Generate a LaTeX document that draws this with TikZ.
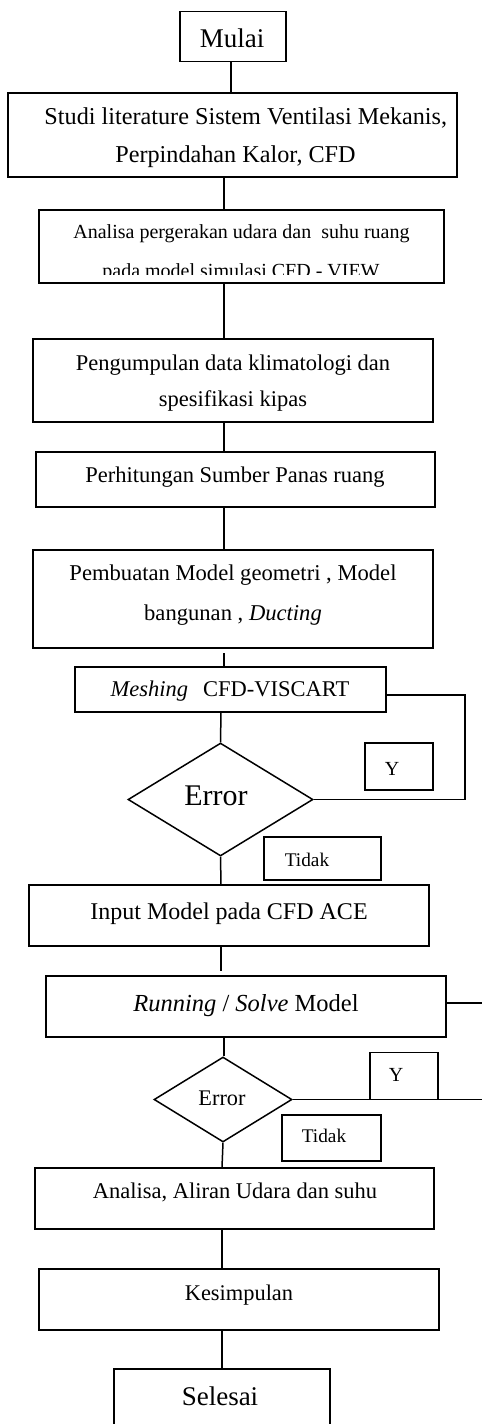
\documentclass[tikz,border=0pt]{standalone}
\usepackage{fontspec}
\setmainfont{Liberation Serif}
\usetikzlibrary{shapes.geometric}
\tikzset{
 box/.style={draw, line width=1.5pt, rectangle, inner sep=0pt, fill=white},
 dia/.style={draw, line width=1.5pt, diamond, inner sep=0pt, fill=white},
 conn/.style={line width=1.5pt},
 txt/.style={anchor=base, inner sep=0pt},
}
\newcommand{\fs}[1]{\fontsize{#1}{#1}\selectfont}
\begin{document}
\begin{tikzpicture}[x=1pt,y=-1pt]
\clip (0,0) rectangle (482,1424);
\fill[white] (0,0) rectangle (482,1424);

% boxes
\node[box, minimum width=106pt, minimum height=50pt] (mulai) at (233,36.5) {};
\node[box, minimum width=449pt, minimum height=84pt] (studi) at (232.5,135) {};
\node[box, minimum width=405pt, minimum height=73pt] (anal) at (241.5,246.5) {};
\node[box, minimum width=400pt, minimum height=83pt] (peng) at (233,380.5) {};
\node[box, minimum width=399pt, minimum height=55pt] (perh) at (235.5,479.5) {};
\node[box, minimum width=400pt, minimum height=98pt] (pemb) at (233,599) {};
\node[box, minimum width=311pt, minimum height=45pt] (mesh) at (230.5,689.5) {};
\node[dia, minimum width=185pt, minimum height=113pt] (d1) at (220.5,799.5) {};
\node[box, minimum width=400pt, minimum height=61pt] (inp) at (229,915.5) {};
\node[box, minimum width=400pt, minimum height=61pt] (run) at (246,1006.5) {};
\node[dia, minimum width=138pt, minimum height=85pt] (d2) at (223,1099.5) {};
\node[box, minimum width=399pt, minimum height=61pt] (anal2) at (234.5,1198.5) {};
\node[box, minimum width=400pt, minimum height=61pt] (kes) at (239,1299.5) {};
\node[box, minimum width=216pt, minimum height=81pt] (sel) at (222,1409.5) {};

% connectors
\draw[conn] (231,0 |- mulai.south) -- (231,0 |- studi.north);
\draw[conn] (224,0 |- studi.south) -- (224,0 |- anal.north);
\draw[conn] (224,0 |- anal.south) -- (224,0 |- peng.north);
\draw[conn] (224,0 |- peng.south) -- (224,0 |- perh.north);
\draw[conn] (224,0 |- perh.south) -- (224,0 |- pemb.north);
\coordinate (pm) at (224,653);
\draw[conn] (pm) -- (224,0 |- mesh.north);
\draw[conn] (221,0 |- mesh.south) -- (d1.north);
\draw[conn] (d1.south) -- (221,0 |- inp.north);
\coordinate (ir) at (221,971);
\draw[conn] (221,0 |- inp.south) -- (ir);
\draw[conn] (224,0 |- run.south) -- (224,0 |- d2.north);
\draw[conn] (d2.south) -- (222,0 |- anal2.north);
\draw[conn] (222,0 |- anal2.south) -- (222,0 |- kes.north);
\draw[conn] (222,0 |- kes.south) -- (222,0 |- sel.north);

% loops
\coordinate (lp1) at (465,799.5);
\draw[conn] (mesh.east |- 0,695) -| (lp1) -- (d1.east);
\coordinate (r1) at (482,1003);
\draw[conn] (run.east |- r1) -- (r1);
\coordinate (r2) at (482,1099.5);
\draw[conn] (d2.east) -- (r2);

% label boxes
\node[box, minimum width=68pt, minimum height=47pt] (y1) at (399,766.5) {};
\node[box, minimum width=117pt, minimum height=43pt] (t1) at (322.5,858.5) {};
\node[box, minimum width=68pt, minimum height=47pt] (y2) at (404,1076) {};
\node[box, minimum width=99pt, minimum height=46pt] (t2) at (331.5,1138) {};

% texts
\node[txt, font=\fs{27}] (tx1) at (232,47.3) {Mulai};
\node[txt, font=\fs{24.2}] (tx2a) at (245.8,124.5) {Studi literature Sistem Ventilasi Mekanis,};
\node[txt, font=\fs{24.2}] (tx2b) at (235.5,162.7) {Perpindahan Kalor, CFD};
\node[txt, font=\fs{20}] (tx3a) at (241.5,238.5) {Analisa pergerakan udara dan\ \ suhu ruang};
\begin{scope}
\clip (0,0) rectangle (482,274.5);
\node[txt, font=\fs{20}] (tx3b) at (241,277) {pada model simulasi CFD - VIEW};
\end{scope}
\node[txt, font=\fs{22.5}] (tx4a) at (233,370) {Pengumpulan data klimatologi dan};
\node[txt, font=\fs{22.5}] (tx4b) at (233,406.7) {spesifikasi kipas};
\node[txt, font=\fs{22.5}] (tx5) at (235,482) {Perhitungan Sumber Panas ruang};
\node[txt, font=\fs{22.6}] (tx6a) at (233,580.7) {Pembuatan Model geometri , Model};
\node[txt, font=\fs{22.6}] (tx6b) at (233,620) {bangunan , \textit{Ducting}};
\node[txt, font=\fs{22.5}] (tx7) at (230,696.7) {\textit{Meshing}\hspace{15pt}CFD-VISCART};
\node[txt, font=\fs{30}] (tx8) at (216,805.7) {Error};
\node[txt, font=\fs{20}] (ty1) at (392,775) {Y};
\node[txt, font=\fs{19.3}] (tt1) at (307,866) {Tidak};
\node[txt, font=\fs{24}] (tx9) at (229,919) {Input Model pada CFD ACE};
\node[txt, font=\fs{24.5}] (tx10) at (246,1011.7) {\textit{Running} / \textit{Solve} Model};
\node[txt, font=\fs{22.3}] (tx11) at (222,1105) {Error};
\node[txt, font=\fs{20}] (ty2) at (396,1081.7) {Y};
\node[txt, font=\fs{19.3}] (tt2) at (324,1142.7) {Tidak};
\node[txt, font=\fs{22.5}] (tx12) at (235,1198) {Analisa, Aliran Udara dan suhu};
\node[txt, font=\fs{22.4}] (tx13) at (239,1300) {Kesimpulan};
\node[txt, font=\fs{27}] (tx14) at (220,1405) {Selesai};
\end{tikzpicture}
\end{document}
